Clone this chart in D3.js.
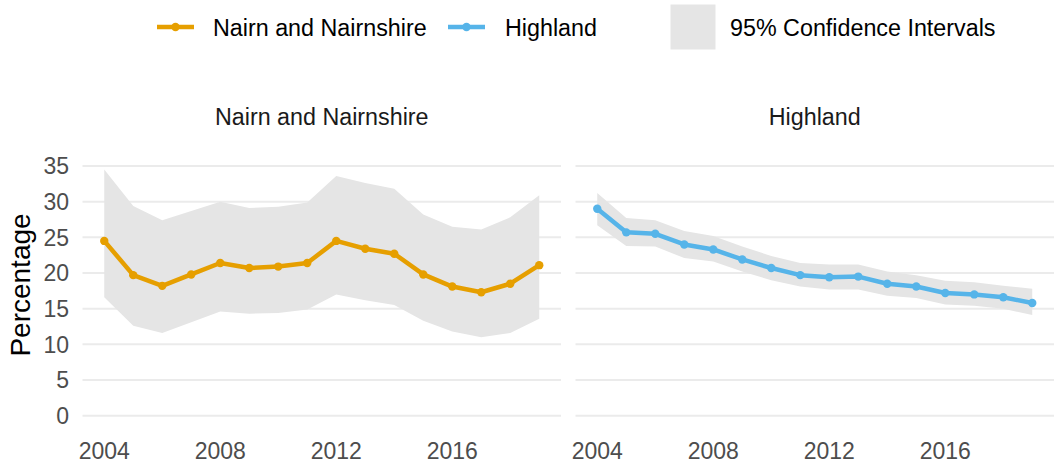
<!DOCTYPE html>
<html>
<head>
<meta charset="utf-8">
<script src="https://cdn.jsdelivr.net/npm/d3@7"></script>
<style>
  body { margin: 0; background: #fff; }
  svg { display: block; font-family: "Liberation Sans", Arial, sans-serif; }
</style>
</head>
<body>
<svg width="1055" height="466"></svg>
<script>
// data
const years = [2004, 2005, 2006, 2007, 2008, 2009, 2010, 2011, 2012, 2013, 2014, 2015, 2016, 2017, 2018, 2019];
const nairnValue = [24.5, 19.7, 18.2, 19.8, 21.4, 20.7, 20.9, 21.4, 24.5, 23.4, 22.7, 19.8, 18.1, 17.3, 18.5, 21.1];
const nairnUpper = [34.5, 29.4, 27.4, 28.7, 30.0, 29.1, 29.3, 29.9, 33.6, 32.6, 31.8, 28.2, 26.5, 26.1, 27.8, 30.9];
const nairnLower = [16.6, 12.6, 11.6, 13.1, 14.6, 14.3, 14.4, 14.9, 17.0, 16.2, 15.5, 13.3, 11.8, 11.0, 11.6, 13.6];
const highlandValue = [29.0, 25.7, 25.5, 24.0, 23.3, 21.9, 20.7, 19.7, 19.4, 19.5, 18.5, 18.1, 17.2, 17.0, 16.6, 15.8];
const highlandUpper = [31.2, 27.7, 27.4, 25.9, 25.2, 23.7, 22.4, 21.4, 21.2, 21.2, 20.2, 19.7, 18.9, 18.7, 18.2, 17.8];
const highlandLower = [26.7, 23.8, 23.7, 22.1, 21.6, 20.2, 19.0, 18.1, 17.7, 17.7, 16.8, 16.5, 15.6, 15.4, 15.0, 14.1];
const yTicks = [0, 5, 10, 15, 20, 25, 30, 35];
const xTicks = [2004, 2008, 2012, 2016];

const panels = [
  { name: "Nairn and Nairnshire", color: "#E69F00", value: nairnValue, upper: nairnUpper, lower: nairnLower, x0: 82.5, x1: 561 },
  { name: "Highland", color: "#56B4E9", value: highlandValue, upper: highlandUpper, lower: highlandLower, x0: 575.5, x1: 1054 }
];

const svg = d3.select("svg");
const y = d3.scaleLinear().domain([0, 35]).range([415.7, 166]);

panels.forEach((p, pi) => {
  const pad = (2019 - 2004) * 0.05;
  const x = d3.scaleLinear().domain([2004 - pad, 2019 + pad]).range([p.x0, p.x1]);
  const g = svg.append("g");

  g.selectAll(".grid")
    .data(yTicks)
    .enter()
    .append("line")
    .attr("x1", p.x0)
    .attr("x2", p.x1)
    .attr("y1", d => y(d))
    .attr("y2", d => y(d))
    .attr("stroke", "#ebebeb")
    .attr("stroke-width", 2);

  const band = d3.area()
    .x((d, i) => x(years[i]))
    .y0((d, i) => y(p.lower[i]))
    .y1((d, i) => y(p.upper[i]));

  g.append("path")
    .datum(years)
    .attr("d", band)
    .attr("fill", "#e5e5e5");

  const line = d3.line()
    .x((d, i) => x(years[i]))
    .y(d => y(d));

  g.append("path")
    .datum(p.value)
    .attr("d", line)
    .attr("fill", "none")
    .attr("stroke", p.color)
    .attr("stroke-width", 4.5)
    .attr("stroke-linejoin", "round");

  g.selectAll(".pt")
    .data(p.value)
    .enter()
    .append("circle")
    .attr("cx", (d, i) => x(years[i]))
    .attr("cy", d => y(d))
    .attr("r", 4.2)
    .attr("fill", p.color);

  // strip title
  g.append("text")
    .attr("x", (p.x0 + p.x1) / 2)
    .attr("y", 125)
    .attr("text-anchor", "middle")
    .attr("fill", "#1a1a1a")
    .style("font-size", "23.3px")
    .text(p.name);

  // x axis labels
  g.selectAll(".xt")
    .data(xTicks)
    .enter()
    .append("text")
    .attr("x", d => x(d))
    .attr("y", 459)
    .attr("text-anchor", "middle")
    .attr("fill", "#4d4d4d")
    .style("font-size", "23px")
    .text(d => d);

  if (pi === 0) {
    g.selectAll(".yt")
      .data(yTicks)
      .enter()
      .append("text")
      .attr("x", 69)
      .attr("y", d => y(d))
      .attr("dy", "0.36em")
      .attr("text-anchor", "end")
      .attr("fill", "#4d4d4d")
      .style("font-size", "23px")
      .text(d => d);
  }
});

svg.append("text")
  .attr("transform", "translate(30,285) rotate(-90)")
  .attr("text-anchor", "middle")
  .attr("fill", "#000")
  .style("font-size", "28px")
  .text("Percentage");

// legend
const legend = svg.append("g");
const legendItems = [
  { name: "Nairn and Nairnshire", color: "#E69F00", kx: 157, tx: 213 },
  { name: "Highland", color: "#56B4E9", kx: 448, tx: 505 }
];
legendItems.forEach(d => {
  legend.append("line")
    .attr("x1", d.kx).attr("x2", d.kx + 37)
    .attr("y1", 27).attr("y2", 27)
    .attr("stroke", d.color)
    .attr("stroke-width", 4.5);
  legend.append("circle")
    .attr("cx", d.kx + 18.5).attr("cy", 27)
    .attr("r", 4.2)
    .attr("fill", d.color);
  legend.append("text")
    .attr("x", d.tx).attr("y", 35.5)
    .attr("fill", "#000")
    .style("font-size", "23.3px")
    .text(d.name);
});
legend.append("rect")
  .attr("x", 670.5).attr("y", 4.5)
  .attr("width", 45).attr("height", 45)
  .attr("fill", "#e5e5e5");
legend.append("text")
  .attr("x", 730).attr("y", 35.5)
  .attr("fill", "#000")
  .style("font-size", "23.3px")
  .text("95% Confidence Intervals");
</script>
</body>
</html>
